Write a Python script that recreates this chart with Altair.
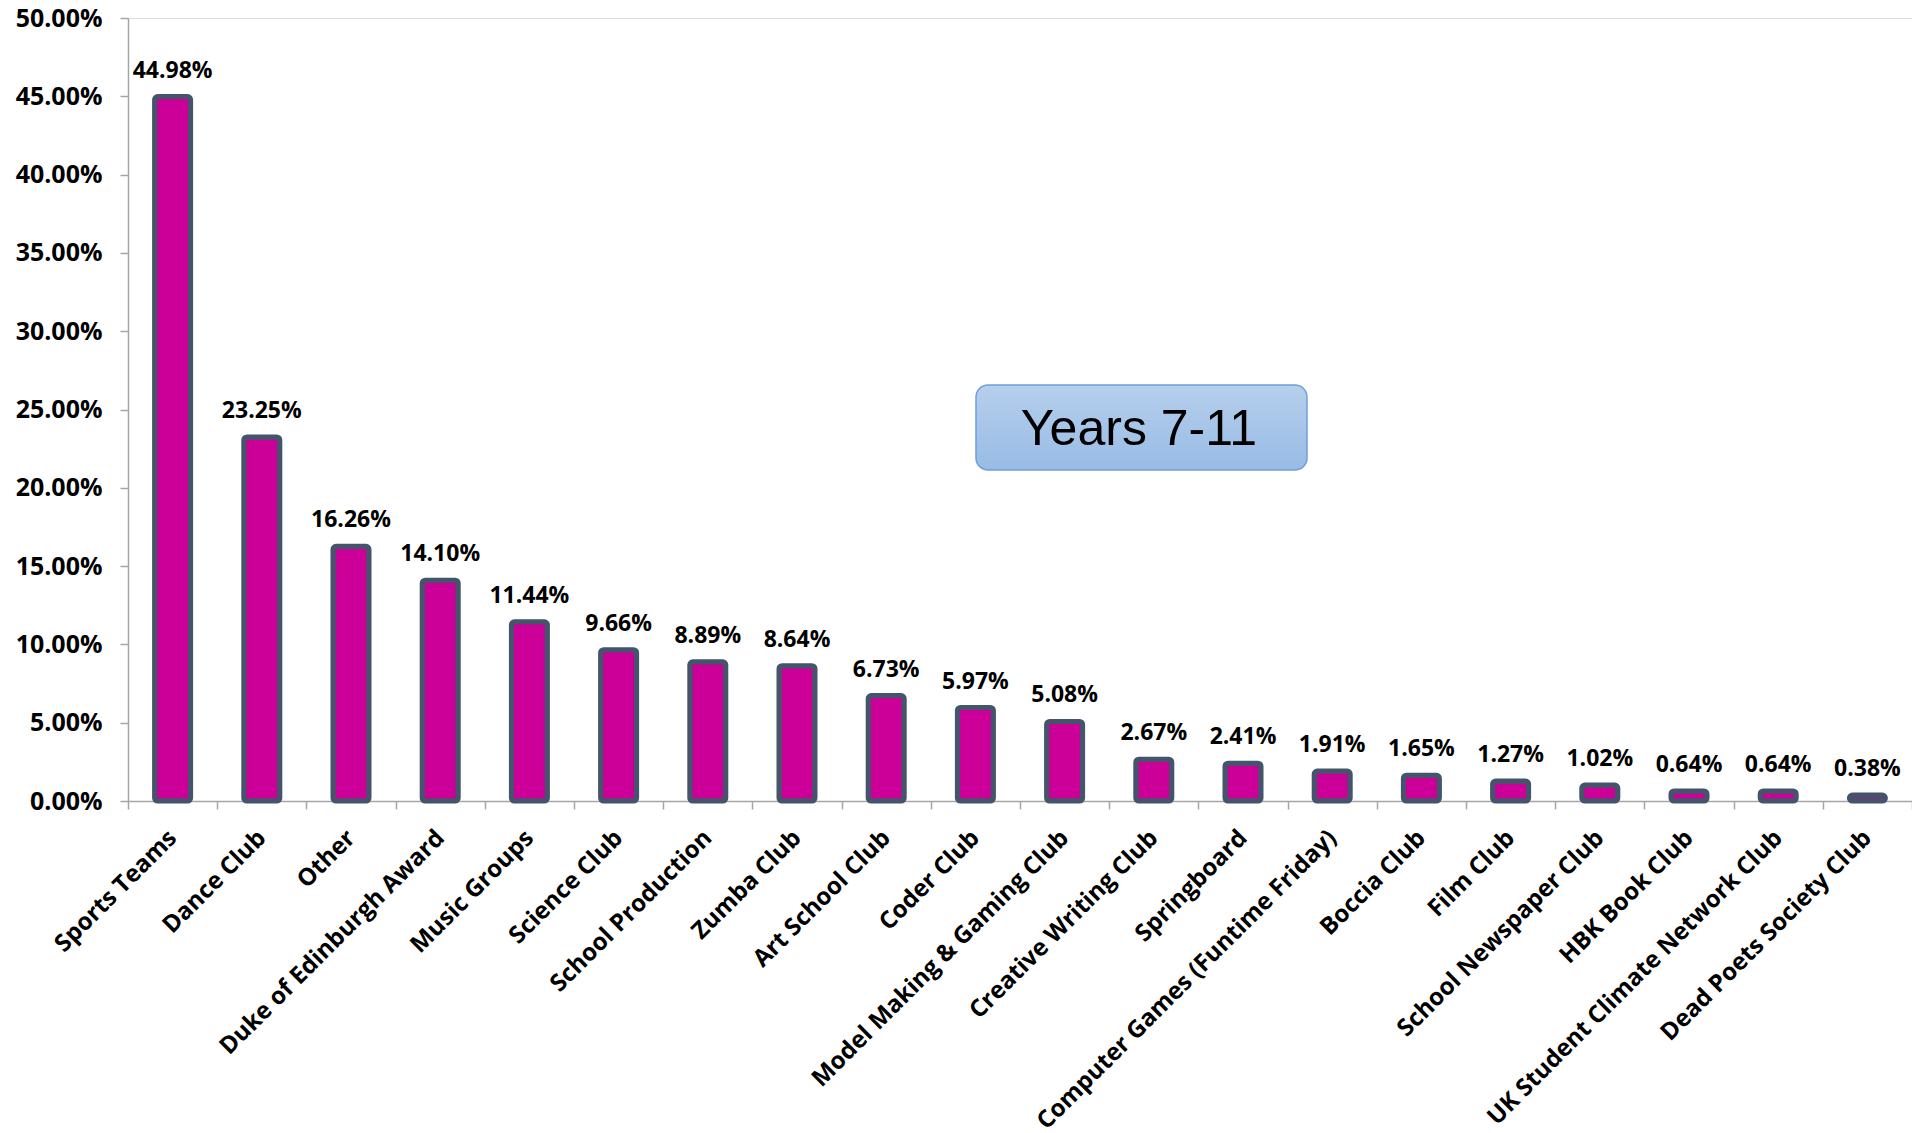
import altair as alt
import pandas as pd

categories = [
    "Sports Teams", "Dance Club", "Other", "Duke of Edinburgh Award",
    "Music Groups", "Science Club", "School Production", "Zumba Club",
    "Art School Club", "Coder Club", "Model Making & Gaming Club",
    "Creative Writing Club", "Springboard", "Computer Games (Funtime Friday)",
    "Boccia Club", "Film Club", "School Newspaper Club", "HBK Book Club",
    "UK Student Climate Network Club", "Dead Poets Society Club",
]
percent_values = [
    44.98, 23.25, 16.26, 14.10, 11.44, 9.66, 8.89, 8.64, 6.73, 5.97,
    5.08, 2.67, 2.41, 1.91, 1.65, 1.27, 1.02, 0.64, 0.64, 0.38,
]
y_ticks = [0.0, 0.05, 0.10, 0.15, 0.20, 0.25, 0.30, 0.35, 0.40, 0.45, 0.50]
box_title = ["Years 7-11"]

df = pd.DataFrame({"activity": categories, "share": [v / 100 for v in percent_values]})
box_df = pd.DataFrame({"label": box_title})

FONT = "Open Sans"

x_enc = alt.X(
    "activity:N",
    sort=None,
    title=None,
    scale=alt.Scale(paddingInner=0, paddingOuter=0),
    axis=alt.Axis(
        labelAngle=-45,
        labelAlign="right",
        labelBaseline="middle",
        labelFont=FONT,
        labelFontWeight="bold",
        labelFontSize=24,
        labelColor="#000000",
        labelPadding=25,
        labelLimit=600,
        tickBand="extent",
        tickSize=8,
        tickColor="#A6A6A6",
        domainColor="#A6A6A6",
        domainWidth=1.5,
        tickWidth=1.5,
        grid=False,
    ),
)
y_enc = alt.Y(
    "share:Q",
    title=None,
    scale=alt.Scale(domain=[0, 0.5], nice=False, zero=True),
    axis=alt.Axis(
        values=y_ticks,
        format=".2%",
        labelFont=FONT,
        labelFontWeight="bold",
        labelFontSize=25,
        labelColor="#000000",
        labelPadding=18,
        tickSize=8,
        tickColor="#A6A6A6",
        domainColor="#A6A6A6",
        domainWidth=1.5,
        tickWidth=1.5,
        grid=False,
    ),
)

bars = alt.Chart(df).mark_bar(
    width=36,
    fill="#CC0099",
    stroke="#44546A",
    strokeWidth=5,
    cornerRadius=3,
).encode(x=x_enc, y=y_enc)

labels = alt.Chart(df).mark_text(
    font=FONT,
    fontWeight="bold",
    fontSize=23,
    color="#000000",
    baseline="alphabetic",
    dy=-19,
).encode(
    x=alt.X("activity:N", sort=None),
    y=alt.Y("share:Q"),
    text=alt.Text("share:Q", format=".2%"),
)

box = alt.Chart(box_df).mark_rect(
    cornerRadius=12,
    fill={
        "gradient": "linear",
        "x1": 0, "y1": 0, "x2": 0, "y2": 1,
        "stops": [
            {"offset": 0, "color": "#B6CFEC"},
            {"offset": 1, "color": "#98BBE5"},
        ],
    },
    stroke="#6E9FD8",
    strokeWidth=1.5,
).encode(
    x=alt.value(848), x2=alt.value(1179),
    y=alt.value(367), y2=alt.value(452),
)

box_text = alt.Chart(box_df).mark_text(
    font="Liberation Sans",
    fontSize=50,
    color="#000000",
    align="center",
    baseline="middle",
).encode(
    x=alt.value(1011), y=alt.value(412), text="label:N",
)

chart = alt.layer(bars, labels, box, box_text).properties(
    width=1784,
    height=783,
    autosize=alt.AutoSizeParams(type="none"),
    padding={"left": 120, "top": 10, "right": 0, "bottom": 332},
).configure_view(stroke=None).configure(background="#FFFFFF")

chart.save("out.html", embed_options={"renderer": "svg", "actions": False})
